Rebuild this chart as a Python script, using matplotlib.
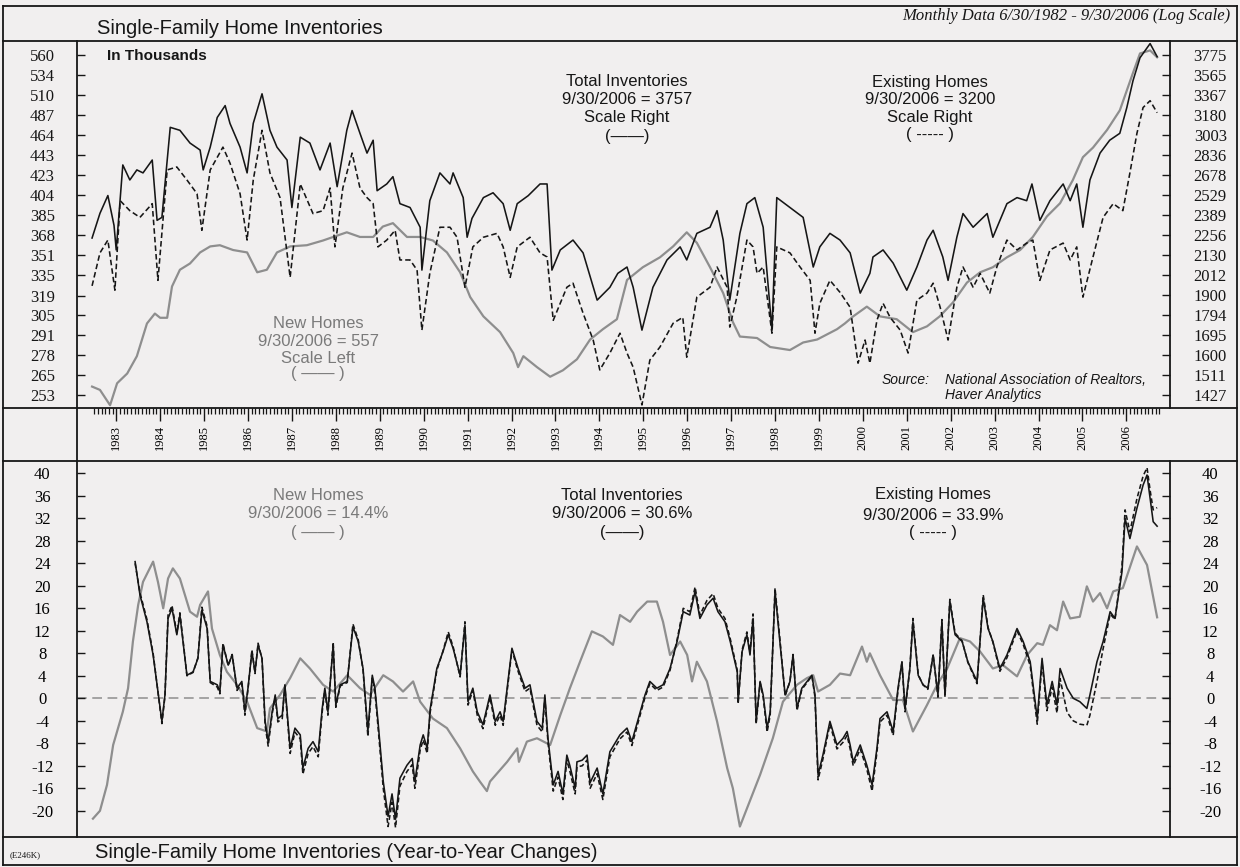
import matplotlib
matplotlib.use("Agg")
import matplotlib.pyplot as plt
from matplotlib.lines import Line2D
from matplotlib.ticker import FixedLocator, NullLocator
import numpy as np

plt.rcParams['font.family'] = ['Liberation Sans', 'DejaVu Sans']
plt.rcParams['lines.scale_dashes'] = False

# ---------------- data: levels (thousands, log scale) ----------------
nh_dates = [1982.45, 1982.63, 1982.86, 1983.02, 1983.25, 1983.47, 1983.70, 1983.88, 1984.00, 1984.16,
            1984.27, 1984.45, 1984.68, 1984.91, 1985.14, 1985.36, 1985.66, 1985.98, 1986.21, 1986.43,
            1986.66, 1986.96, 1987.34, 1987.71, 1987.94, 1988.25, 1988.55, 1988.85, 1989.07, 1989.30,
            1989.62, 1989.92, 1990.21, 1990.53, 1990.83, 1991.06, 1991.36, 1991.74, 1992.04, 1992.15,
            1992.27, 1992.58, 1992.88, 1993.17, 1993.49, 1993.79, 1994.08, 1994.40, 1994.63, 1994.99,
            1995.38, 1995.68, 1995.99, 1996.22, 1996.52, 1996.82, 1997.04, 1997.20, 1997.59, 1997.89,
            1998.34, 1998.64, 1998.96, 1999.41, 1999.59, 1999.78, 2000.09, 2000.39, 2000.77, 2001.14,
            2001.46, 2001.75, 2002.05, 2002.37, 2002.67, 2002.96, 2003.28, 2003.58, 2003.87, 2004.19,
            2004.49, 2004.78, 2005.01, 2005.24, 2005.56, 2005.85, 2006.15, 2006.31, 2006.54, 2006.70]
nh_levels = [258, 256, 247, 260, 266, 277, 299, 306, 303, 303,
             326, 339, 344, 353, 358, 359, 355, 353, 337, 339,
             353, 358, 359, 363, 366, 370, 366, 366, 375, 378,
             366, 366, 363, 353, 337, 318, 304, 293, 279, 270,
             277, 270, 264, 268, 275, 288, 295, 302, 331, 341,
             349, 358, 370, 361, 341, 321, 300, 290, 289, 283,
             281, 286, 288, 295, 299, 304, 311, 304, 302, 293,
             297, 304, 314, 329, 337, 341, 349, 355, 366, 384,
             396, 418, 441, 451, 470, 492, 537, 562, 566, 557]

tot_dates = [1982.45, 1982.63, 1982.81, 1982.95, 1983.00, 1983.15, 1983.31, 1983.47, 1983.61, 1983.82,
             1983.93, 1984.04, 1984.23, 1984.45, 1984.68, 1984.91, 1984.98, 1985.14, 1985.30, 1985.48,
             1985.59, 1985.82, 1985.98, 1986.12, 1986.32, 1986.50, 1986.66, 1986.89, 1987.00, 1987.19,
             1987.41, 1987.64, 1987.87, 1988.03, 1988.25, 1988.37, 1988.55, 1988.71, 1988.85, 1988.94,
             1989.16, 1989.30, 1989.46, 1989.69, 1989.92, 1989.96, 1990.14, 1990.37, 1990.60, 1990.67,
             1990.90, 1990.99, 1991.10, 1991.36, 1991.58, 1991.81, 1991.97, 1992.13, 1992.38, 1992.65,
             1992.81, 1992.92, 1993.11, 1993.40, 1993.63, 1993.95, 1994.24, 1994.42, 1994.63, 1994.77,
             1994.97, 1995.22, 1995.54, 1995.84, 1995.99, 1996.22, 1996.52, 1996.68, 1996.82, 1996.97,
             1997.20, 1997.36, 1997.54, 1997.73, 1997.93, 1998.04, 1998.34, 1998.64, 1998.87, 1999.02,
             1999.25, 1999.48, 1999.71, 1999.94, 2000.16, 2000.23, 2000.46, 2000.69, 2001.00, 2001.23,
             2001.46, 2001.60, 2001.82, 2001.94, 2002.14, 2002.28, 2002.51, 2002.83, 2002.96, 2003.28,
             2003.51, 2003.73, 2003.85, 2004.03, 2004.26, 2004.56, 2004.72, 2004.87, 2005.01, 2005.17,
             2005.40, 2005.62, 2005.85, 2006.01, 2006.15, 2006.31, 2006.54, 2006.70]
tot_levels = [2236, 2400, 2525, 2318, 2161, 2756, 2640, 2717, 2694, 2795,
              2352, 2372, 3069, 3043, 2934, 2876, 2717, 2900, 3157, 3266,
              3104, 2900, 2694, 3104, 3378, 3043, 2900, 2795, 2440, 2984,
              2934, 2717, 2934, 2590, 3043, 3220, 3017, 2851, 2958, 2560,
              2610, 2665, 2467, 2440, 2306, 2040, 2488, 2694, 2610, 2694,
              2510, 2241, 2365, 2510, 2545, 2467, 2286, 2467, 2524, 2610,
              2610, 2040, 2161, 2223, 2143, 1872, 1942, 2021, 2058, 1942,
              1718, 1942, 2100, 2180, 2100, 2266, 2306, 2418, 2223, 1872,
              2266, 2467, 2510, 2306, 1718, 2510, 2440, 2372, 2058, 2180,
              2266, 2223, 2143, 1910, 2021, 2118, 2161, 2081, 1926, 2058,
              2223, 2286, 2118, 1981, 2241, 2398, 2306, 2398, 2241, 2467,
              2510, 2488, 2610, 2352, 2488, 2610, 2488, 2610, 2306, 2640,
              2851, 2958, 3017, 3248, 3506, 3745, 3900, 3757]

ex_dates = [1982.45, 1982.63, 1982.81, 1982.97, 1983.09, 1983.31, 1983.54, 1983.82, 1983.95, 1984.16,
            1984.38, 1984.61, 1984.84, 1984.95, 1985.14, 1985.43, 1985.59, 1985.82, 1985.98, 1986.12,
            1986.32, 1986.50, 1986.73, 1986.96, 1987.19, 1987.48, 1987.71, 1987.87, 1987.98, 1988.16,
            1988.37, 1988.55, 1988.71, 1988.85, 1988.96, 1989.16, 1989.35, 1989.46, 1989.69, 1989.85,
            1989.96, 1990.14, 1990.37, 1990.60, 1990.76, 1990.94, 1991.12, 1991.36, 1991.67, 1991.81,
            1991.97, 1992.13, 1992.42, 1992.65, 1992.81, 1992.95, 1993.26, 1993.40, 1993.63, 1993.86,
            1994.01, 1994.24, 1994.47, 1994.63, 1994.77, 1994.97, 1995.15, 1995.38, 1995.68, 1995.90,
            1995.99, 1996.22, 1996.52, 1996.68, 1996.91, 1996.97, 1997.13, 1997.36, 1997.50, 1997.59,
            1997.73, 1997.93, 1998.04, 1998.34, 1998.57, 1998.80, 1998.91, 1999.02, 1999.25, 1999.48,
            1999.71, 1999.89, 2000.05, 2000.16, 2000.32, 2000.46, 2000.62, 2000.85, 2001.03, 2001.23,
            2001.46, 2001.60, 2001.76, 2001.94, 2002.14, 2002.28, 2002.51, 2002.67, 2002.89, 2003.05,
            2003.28, 2003.51, 2003.73, 2003.87, 2004.03, 2004.26, 2004.56, 2004.72, 2004.87, 2005.01,
            2005.24, 2005.47, 2005.70, 2005.92, 2006.08, 2006.24, 2006.38, 2006.54, 2006.70]
ex_levels = [1950, 2143, 2223, 1926, 2488, 2418, 2372, 2467, 1981, 2717,
             2740, 2640, 2538, 2286, 2717, 2900, 2771, 2538, 2223, 2640,
             3043, 2694, 2510, 1998, 2610, 2398, 2418, 2580, 2180, 2580,
             2851, 2580, 2510, 2467, 2180, 2223, 2286, 2100, 2100, 2040,
             1718, 2021, 2306, 2306, 2241, 1942, 2180, 2241, 2266, 2180,
             1998, 2180, 2241, 2143, 2118, 1767, 1942, 1965, 1803, 1670,
             1533, 1609, 1703, 1609, 1545, 1387, 1577, 1637, 1752, 1782,
             1590, 1888, 1942, 2058, 1942, 1733, 1888, 2223, 2180, 2021,
             2058, 1703, 2180, 2143, 2058, 1981, 1703, 1855, 1981, 1914,
             1834, 1563, 1670, 1563, 1767, 1855, 1782, 1718, 1609, 1872,
             1910, 1965, 1834, 1670, 1942, 2058, 1942, 2021, 1910, 2058,
             2223, 2161, 2204, 2223, 1981, 2161, 2204, 2100, 2180, 1888,
             2118, 2372, 2467, 2418, 2694, 3017, 3248, 3312, 3200]

# ---------------- data: year-to-year % changes ----------------
nhy_dates = [1982.47, 1982.63, 1982.79, 1982.93, 1983.15, 1983.27, 1983.38, 1983.50, 1983.61, 1983.84,
             1983.95, 1984.07, 1984.18, 1984.29, 1984.45, 1984.68, 1984.84, 1984.91, 1985.09, 1985.18,
             1985.36, 1985.52, 1985.75, 1985.98, 1986.21, 1986.43, 1986.50, 1986.73, 1986.96, 1987.19,
             1987.41, 1987.71, 1987.94, 1988.26, 1988.55, 1988.78, 1989.08, 1989.30, 1989.53, 1989.76,
             1989.92, 1990.21, 1990.53, 1990.83, 1991.12, 1991.28, 1991.44, 1991.51, 1991.90, 1992.13,
             1992.17, 1992.35, 1992.58, 1992.88, 1993.11, 1993.33, 1993.56, 1993.83, 1994.08, 1994.31,
             1994.47, 1994.70, 1994.86, 1995.09, 1995.31, 1995.45, 1995.61, 1995.84, 1996.00, 1996.11,
             1996.22, 1996.45, 1996.68, 1996.91, 1997.04, 1997.20, 1997.66, 1997.95, 1998.18, 1998.50,
             1998.73, 1998.87, 1998.98, 1999.25, 1999.48, 1999.71, 1999.98, 2000.09, 2000.16, 2000.39,
             2000.69, 2000.91, 2001.14, 2001.46, 2001.69, 2001.92, 2002.21, 2002.44, 2002.67, 2002.96,
             2003.19, 2003.51, 2003.74, 2003.97, 2004.10, 2004.26, 2004.42, 2004.56, 2004.72, 2004.94,
             2005.10, 2005.24, 2005.40, 2005.56, 2005.70, 2005.92, 2006.24, 2006.47, 2006.70]
nhy_vals = [-21.4, -20.0, -15.4, -8.3, -2.4, 1.8, 10.1, 16.6, 20.7, 24.3,
            20.7, 16.0, 21.3, 23.1, 21.3, 15.4, 14.5, 16.6, 19.0, 12.4,
            7.7, 4.7, 2.4, -0.6, -5.3, -5.9, -1.8, 0.6, 3.6, 7.1,
            5.3, 2.4, 1.2, 4.1, 1.8, 0.6, 4.1, 3.0, 1.2, 3.0,
            -0.6, -3.6, -5.3, -8.9, -13.0, -14.8, -16.5, -14.8, -11.3, -8.9,
            -11.3, -7.7, -7.1, -8.3, -3.0, 1.8, 6.5, 11.9, 11.0, 9.5,
            14.8, 13.6, 15.4, 17.2, 17.2, 13.6, 7.7, 10.1, 7.7, 3.0,
            6.5, 3.0, -4.1, -12.4, -16.0, -22.8, -13.6, -7.1, -0.6, 2.4,
            3.6, 4.1, 1.2, 2.4, 4.4, 4.1, 9.2, 6.5, 8.0, 4.1,
            -0.3, -0.3, -5.9, -1.2, 2.4, 5.3, 10.7, 10.1, 8.3, 5.3,
            5.9, 3.9, 7.7, 9.8, 9.5, 13.0, 12.1, 17.2, 14.2, 14.5,
            19.9, 17.2, 18.7, 16.0, 19.0, 19.6, 27.0, 23.7, 14.4]

yoy_dates = [1983.43, 1983.54, 1983.70, 1983.84, 1984.00, 1984.04, 1984.11, 1984.18, 1984.27, 1984.38,
             1984.45, 1984.52, 1984.61, 1984.75, 1984.86, 1984.95, 1985.07, 1985.14, 1985.30, 1985.36,
             1985.43, 1985.55, 1985.64, 1985.75, 1985.86, 1985.93, 1986.00, 1986.09, 1986.16, 1986.23,
             1986.32, 1986.39, 1986.46, 1986.55, 1986.62, 1986.68, 1986.78, 1986.84, 1986.96, 1987.07,
             1987.19, 1987.25, 1987.37, 1987.48, 1987.60, 1987.69, 1987.75, 1987.82, 1987.94, 1988.00,
             1988.10, 1988.26, 1988.39, 1988.51, 1988.62, 1988.73, 1988.83, 1988.89, 1988.96, 1989.08,
             1989.19, 1989.28, 1989.36, 1989.46, 1989.62, 1989.74, 1989.80, 1989.92, 1989.99, 1990.08,
             1990.15, 1990.30, 1990.44, 1990.56, 1990.67, 1990.83, 1990.94, 1991.01, 1991.12, 1991.22,
             1991.35, 1991.51, 1991.63, 1991.74, 1991.81, 1992.01, 1992.15, 1992.31, 1992.42, 1992.58,
             1992.70, 1992.76, 1992.83, 1992.95, 1993.06, 1993.17, 1993.26, 1993.33, 1993.45, 1993.49,
             1993.61, 1993.72, 1993.79, 1993.95, 1994.08, 1994.24, 1994.47, 1994.63, 1994.74, 1994.93,
             1995.04, 1995.15, 1995.31, 1995.45, 1995.61, 1995.77, 1995.91, 1996.06, 1996.18, 1996.29,
             1996.45, 1996.59, 1996.70, 1996.86, 1996.98, 1997.14, 1997.16, 1997.25, 1997.36, 1997.43,
             1997.50, 1997.57, 1997.66, 1997.73, 1997.82, 1997.89, 1998.00, 1998.11, 1998.23, 1998.34,
             1998.41, 1998.50, 1998.61, 1998.73, 1998.84, 1998.91, 1998.98, 1999.09, 1999.25, 1999.41,
             1999.55, 1999.64, 1999.71, 1999.78, 1999.94, 2000.09, 2000.21, 2000.32, 2000.39, 2000.55,
             2000.69, 2000.80, 2000.89, 2000.96, 2001.07, 2001.14, 2001.26, 2001.37, 2001.48, 2001.60,
             2001.71, 2001.80, 2001.87, 2001.98, 2002.10, 2002.26, 2002.39, 2002.60, 2002.74, 2002.85,
             2002.96, 2003.12, 2003.28, 2003.51, 2003.65, 2003.81, 2003.97, 2004.08, 2004.19, 2004.31,
             2004.42, 2004.49, 2004.65, 2004.79, 2004.94, 2005.10, 2005.17, 2005.33, 2005.47, 2005.63,
             2005.74, 2005.90, 2005.97, 2006.08, 2006.24, 2006.38, 2006.47, 2006.54, 2006.61, 2006.70]
toty_vals = [24.3, 18.4, 13.6, 7.7, -1.8, -4.1, 0.6, 14.2, 16.0, 11.3,
             14.8, 10.1, 4.1, 4.7, 7.1, 15.7, 12.4, 3.0, 2.4, 1.2,
             9.5, 5.9, 7.7, 1.8, 3.0, -2.4, 1.8, 8.3, 4.7, 9.5,
             7.1, -4.1, -7.7, -2.4, 0.6, -3.6, -3.0, 2.4, -8.9, -5.3,
             -6.5, -12.4, -8.9, -7.7, -9.5, -1.8, 1.8, -2.4, 9.5, -1.2,
             2.4, 3.0, 12.7, 10.1, 5.3, -5.9, 4.1, 1.8, -4.1, -14.8,
             -21.0, -17.0, -21.5, -14.2, -11.9, -10.7, -14.8, -8.3, -6.5, -8.9,
             -1.8, 5.3, 8.3, 11.3, 8.9, 4.1, 13.0, -0.6, 1.8, -2.4,
             -4.7, 0.6, -4.1, -2.4, -4.1, 8.9, 5.3, 1.8, 2.4, -4.1,
             -5.3, 0.6, -7.1, -15.4, -13.0, -17.0, -10.1, -12.0, -16.0, -11.3,
             -11.0, -10.1, -15.0, -12.4, -17.0, -9.5, -6.5, -5.3, -7.7, -2.4,
             0.6, 3.0, 1.8, 2.4, 5.3, 10.1, 15.4, 14.8, 19.0, 14.2,
             16.6, 17.8, 15.4, 13.6, 10.1, 4.7, -0.6, 8.3, 11.3, 7.7,
             14.2, -4.1, 3.0, 0.6, -5.3, -2.4, 19.0, 10.1, 0.6, 3.0,
             7.7, -1.8, 1.8, 3.0, 4.1, 0.6, -13.6, -10.1, -4.1, -8.3,
             -7.1, -5.9, -8.3, -11.3, -8.3, -11.9, -15.4, -8.9, -3.6, -2.4,
             -5.9, 1.8, 6.5, -1.8, 5.3, 13.6, 4.1, 2.4, 1.8, 7.7,
             0.6, 13.6, 0.6, 17.2, 11.3, 10.1, 6.5, 3.0, 17.8, 12.4,
             10.1, 5.3, 7.7, 12.4, 10.1, 6.5, -3.6, 7.1, -1.2, 3.0,
             -1.2, 5.3, 1.8, 0.0, -0.6, -1.8, 0.6, 6.5, 10.1, 15.4,
             14.2, 22.5, 32.0, 28.4, 33.8, 37.9, 39.7, 35.6, 31.4, 30.6]
exy_vals = [24.0, 18.8, 14.0, 8.0, -2.0, -4.5, 0.4, 14.8, 16.5, 11.6,
            15.2, 10.4, 4.0, 4.6, 7.2, 16.2, 12.8, 2.8, 2.0, 0.8,
            9.8, 5.8, 7.8, 1.4, 2.6, -3.0, 1.6, 8.6, 4.4, 9.8,
            7.0, -4.8, -8.5, -2.8, 0.2, -4.2, -3.6, 2.2, -9.8, -6.0,
            -7.2, -13.5, -9.8, -8.6, -10.4, -2.4, 1.4, -3.0, 10.0, -1.6,
            2.2, 2.8, 13.2, 10.4, 5.0, -6.8, 3.6, 1.2, -5.0, -16.0,
            -22.8, -18.5, -23.0, -15.6, -13.0, -11.8, -16.0, -9.2, -7.4, -9.8,
            -2.4, 5.0, 8.4, 11.8, 9.2, 3.8, 13.6, -1.2, 1.4, -3.0,
            -5.4, 0.2, -4.8, -3.0, -4.8, 8.6, 4.8, 1.2, 1.8, -4.8,
            -6.0, 0.0, -7.8, -16.5, -14.0, -18.0, -11.0, -13.0, -17.0, -12.2,
            -12.0, -11.0, -16.0, -13.4, -18.0, -10.4, -7.2, -6.0, -8.4, -3.0,
            0.2, 2.6, 1.4, 2.0, 5.0, 10.4, 16.0, 15.4, 19.8, 14.8,
            17.4, 18.6, 16.0, 14.2, 10.6, 5.0, -1.0, 8.6, 11.8, 8.0,
            15.0, -4.6, 2.8, 0.2, -6.0, -3.0, 19.6, 10.6, 0.4, 3.0,
            7.8, -2.2, 1.6, 2.8, 4.0, 0.2, -14.5, -10.8, -4.6, -9.0,
            -7.8, -6.6, -9.0, -12.0, -9.0, -12.6, -16.5, -9.6, -4.2, -3.0,
            -6.6, 1.4, 6.4, -2.4, 5.2, 14.2, 4.2, 2.4, 1.6, 7.8,
            0.2, 14.0, 0.2, 17.6, 11.6, 10.2, 6.4, 2.6, 18.4, 12.6,
            10.0, 4.8, 7.2, 12.0, 9.6, 5.8, -4.6, 6.4, -2.2, 2.0,
            -2.6, 3.5, -2.5, -4.0, -4.6, -4.8, -3.0, 3.0, 8.8, 15.0,
            14.0, 23.5, 33.5, 29.6, 35.5, 39.5, 41.0, 37.0, 33.5, 33.9]

# ---------------- axis ticks / labels ----------------
left_ticks = [253, 265, 278, 291, 305, 319, 335, 351, 368, 385, 404, 423, 443, 464, 487, 510, 534, 560]
right_ticks = [1427, 1511, 1600, 1695, 1794, 1900, 2012, 2130, 2256, 2389, 2529, 2678, 2836, 3003,
               3180, 3367, 3565, 3775]
pct_ticks = [-20, -16, -12, -8, -4, 0, 4, 8, 12, 16, 20, 24, 28, 32, 36, 40]
years = list(range(1983, 2007))

# ---------------- figure layout ----------------
W, H = 1240, 867
BG = '#f1efef'
GRAY = '#8e8e8e'
TGRAY = '#7a7a7a'
INK = '#161616'
SERIF = 'Liberation Serif'

fig = plt.figure(figsize=(W / 100, H / 100), dpi=100, facecolor=BG)


def fx(p):
    return p / W


def fy(p):
    return 1 - p / H


L, R = 77, 1170
TOP0, TOP1 = 41, 408
BOT0, BOT1 = 461, 837
XLIM = (1982.107, 2006.993)

ax1 = fig.add_axes([fx(L), fy(TOP1), (R - L) / W, (TOP1 - TOP0) / H])
ax1.set_facecolor(BG)
ax1r = ax1.twinx()
ax2 = fig.add_axes([fx(L), fy(BOT1), (R - L) / W, (BOT1 - BOT0) / H])
ax2.set_facecolor(BG)
ax2r = ax2.twinx()

for a in (ax1, ax1r, ax2, ax2r):
    for s in a.spines.values():
        s.set_visible(False)
    a.set_xlim(*XLIM)

LW = 1.15

# top panel
ax1.plot(nh_dates, nh_levels, color=GRAY, lw=1.6, zorder=2)
ax1r.plot(tot_dates, tot_levels, color=INK, lw=LW, zorder=3)
ax1r.plot(ex_dates, ex_levels, color=INK, lw=LW, dashes=(4, 2.2), zorder=3)

ax1.set_yscale('log')
ax1.set_ylim(245.4, 578.6)
ax1.set_yticks(left_ticks, [str(v) for v in left_ticks], ha='center', fontfamily=SERIF)
ax1.yaxis.set_minor_locator(NullLocator())
ax1.tick_params(axis='y', which='major', direction='in', length=6, width=1.0, color=INK,
                labelsize=12, pad=25, left=True, right=False, labelcolor=INK)

ax1r.set_yscale('log')
ax1r.set_ylim(1374.9, 3929)
ax1r.set_yticks(right_ticks, [str(v) for v in right_ticks], ha='center', fontfamily=SERIF)
ax1r.yaxis.set_minor_locator(NullLocator())
ax1r.tick_params(axis='y', which='major', direction='in', length=6, width=1.0, color=INK,
                 labelsize=12, pad=29, right=True, left=False, labelcolor=INK)

ax1.set_xticks(years, [str(y) for y in years], rotation=90, fontfamily=SERIF, fontsize=9)
ax1.xaxis.set_minor_locator(FixedLocator(np.arange(1982.5, 2006.76, 1 / 12)))
ax1.tick_params(axis='x', which='major', direction='out', length=9, width=1.0, color=INK,
                pad=3, bottom=True, top=False)
ax1.tick_params(axis='x', which='minor', direction='out', length=4.5, width=0.9, color=INK,
                bottom=True, top=False)

# bottom panel
ax2.axhline(0, color=GRAY, lw=1.1, dashes=(7, 4), zorder=1)
ax2.plot(nhy_dates, nhy_vals, color=GRAY, lw=1.6, zorder=2)
ax2.plot(yoy_dates, toty_vals, color=INK, lw=LW, zorder=3)
ax2.plot(yoy_dates, exy_vals, color=INK, lw=LW, dashes=(3.5, 2), zorder=3)
for a in (ax2, ax2r):
    a.set_ylim(-24.66, 42.19)
ax2.set_yticks(pct_ticks, [str(v) for v in pct_ticks], ha='center', fontfamily=SERIF)
ax2.tick_params(axis='y', direction='in', length=6, width=1.0, color=INK, labelsize=12,
                pad=25, left=True, right=False)
ax2r.set_yticks(pct_ticks, [str(v) for v in pct_ticks], ha='center', fontfamily=SERIF)
ax2r.tick_params(axis='y', direction='in', length=6, width=1.0, color=INK, labelsize=12,
                 pad=29, right=True, left=False)
ax2.tick_params(axis='x', bottom=False, labelbottom=False)


# ---------------- frame ----------------
def hline(y, x0, x1, lw=1.3):
    fig.add_artist(Line2D([fx(x0), fx(x1)], [fy(y), fy(y)], transform=fig.transFigure,
                          color=INK, lw=lw))


def vline(x, y0, y1, lw=1.3):
    fig.add_artist(Line2D([fx(x), fx(x)], [fy(y0), fy(y1)], transform=fig.transFigure,
                          color=INK, lw=lw))


hline(6, 3, 1237)
hline(865, 3, 1237)
vline(3, 6, 865)
vline(1237, 6, 865)
for yy in (TOP0, TOP1, BOT0, BOT1):
    hline(yy, 3, 1237)
vline(L, TOP0, BOT1)
vline(R, TOP0, TOP1)
vline(R, BOT0, BOT1)


# ---------------- texts ----------------
def T(x, y, s, **kw):
    kw.setdefault('ha', 'center')
    kw.setdefault('va', 'center')
    kw.setdefault('fontsize', 12)
    kw.setdefault('color', INK)
    fig.text(fx(x), fy(y), s, **kw)


T(97, 28, "Single-Family Home Inventories", ha='left', fontsize=14.5)
T(1230, 16, "Monthly Data 6/30/1982 - 9/30/2006 (Log Scale)", ha='right', fontsize=12,
  family=SERIF, style='italic')
T(95, 853, "Single-Family Home Inventories (Year-to-Year Changes)", ha='left', fontsize=14.5)
T(10, 855, "(E246K)", ha='left', fontsize=6.5, family=SERIF)

T(107, 56, "In Thousands", ha='left', fontsize=11, fontweight='bold')

for yy, s in zip((82, 100, 117, 136), ("Total Inventories", "9/30/2006 = 3757", "Scale Right", "(\u2014\u2014)")):
    T(627, yy, s)
for yy, s in zip((82, 100, 117, 135), ("Existing Homes", "9/30/2006 = 3200", "Scale Right", "( ----- )")):
    T(930, yy, s)
for yy, s in zip((323, 341, 358, 373), ("New Homes", "9/30/2006 = 557", "Scale Left", "( \u2014\u2014 )")):
    T(318, yy, s, color=TGRAY)

T(882, 380, "Source:", ha='left', fontsize=10, style='italic')
T(945, 380, "National Association of Realtors,", ha='left', fontsize=10, style='italic')
T(945, 395, "Haver Analytics", ha='left', fontsize=10, style='italic')

for yy, s in zip((495, 514, 532), ("New Homes", "9/30/2006 = 14.4%", "( \u2014\u2014 )")):
    T(318, yy, s, color=TGRAY)
for yy, s in zip((495, 514, 532), ("Total Inventories", "9/30/2006 = 30.6%", "(\u2014\u2014)")):
    T(622, yy, s)
for yy, s in zip((495, 515, 532), ("Existing Homes", "9/30/2006 = 33.9%", "( ----- )")):
    T(933, yy, s)

fig.savefig("out.png", dpi=100, facecolor=BG)
